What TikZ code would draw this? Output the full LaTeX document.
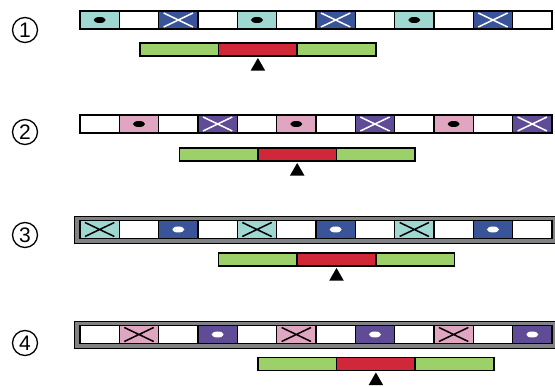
\documentclass[tikz,border=0pt]{standalone}
\usepackage{fontspec}
\newfontfamily\numfont{Liberation Sans}
\usetikzlibrary{positioning,shapes.geometric}
\definecolor{cteal}{RGB}{158,216,208}
\definecolor{cblue}{RGB}{58,84,154}
\definecolor{cpink}{RGB}{224,165,192}
\definecolor{cpurple}{RGB}{96,76,150}
\definecolor{cgreen}{RGB}{156,208,104}
\definecolor{cred}{RGB}{208,40,56}
\definecolor{cframe}{RGB}{128,130,132}

\begin{document}
\begin{tikzpicture}[
  x=1pt, y=-1pt,
  num/.style={circle, draw, line width=1.3pt, minimum size=25pt, inner sep=0pt,
    font=\numfont\fontsize{21}{21}\selectfont},
  cell/.style={draw, line width=1.6pt, minimum width=39.33pt, minimum height=18pt,
    inner sep=0pt, outer sep=0pt, anchor=north west},
  plain/.style={cell, fill=white},
  dotcell/.style={cell, path picture={
    \fill[#1] (path picture bounding box.center) ellipse [x radius=6pt, y radius=3pt];}},
  crosscell/.style={cell, path picture={
    \draw[#1, line width=1.5pt]
      ([xshift=5pt,yshift=-2pt]path picture bounding box.north west) --
      ([xshift=-5pt,yshift=2pt]path picture bounding box.south east)
      ([xshift=5pt,yshift=2pt]path picture bounding box.south west) --
      ([xshift=-5pt,yshift=-2pt]path picture bounding box.north east);}},
  tdot/.style={dotcell=black, fill=cteal},
  tcross/.style={crosscell=black, fill=cteal},
  bcross/.style={crosscell=white, fill=cblue},
  bdot/.style={dotcell=white, fill=cblue},
  pdot/.style={dotcell=black, fill=cpink},
  pcross/.style={crosscell=black, fill=cpink},
  ucross/.style={crosscell=white, fill=cpurple},
  udot/.style={dotcell=white, fill=cpurple},
  frame/.style={draw, fill=cframe, line width=1.4pt, minimum width=482pt,
    minimum height=27pt, inner sep=0pt, anchor=north west},
  seg/.style={draw, line width=1.5pt, minimum width=78.6pt, minimum height=13pt,
    inner sep=0pt, outer sep=0pt},
  pointer/.style={regular polygon, regular polygon sides=3, fill=black,
    minimum size=17pt, inner sep=0pt, outer sep=0pt}
]
\useasboundingbox (0,0) rectangle (555,387);

% circled row numbers
\node[num] (n1) at (25,30) {1};
\node[num] (n2) at (25,132) {2};
\node[num] (n3) at (25,235) {3};
\node[num] (n4) at (25,343) {4};

% frames behind rows 3 and 4
\node[frame] (f3) at (74,216) {};
\node[frame] (f4) at (74,321) {};

% strips of twelve cells
\foreach \s [count=\i] in {tdot,plain,bcross,plain,tdot,plain,bcross,plain,tdot,plain,bcross,plain}
  \node[\s] (r1c\i) at ({80+39.33*(\i-1)},11) {};
\foreach \s [count=\i] in {plain,pdot,plain,ucross,plain,pdot,plain,ucross,plain,pdot,plain,ucross}
  \node[\s] (r2c\i) at ({80+39.33*(\i-1)},115) {};
\foreach \s [count=\i] in {tcross,plain,bdot,plain,tcross,plain,bdot,plain,tcross,plain,bdot,plain}
  \node[\s] (r3c\i) at ({80+39.33*(\i-1)},220.5) {};
\foreach \s [count=\i] in {plain,pcross,plain,udot,plain,pcross,plain,udot,plain,pcross,plain,udot}
  \node[\s] (r4c\i) at ({80+39.33*(\i-1)},325.5) {};

% bars with pointer, shifted one cell per row
\foreach \r/\x/\y in {1/140/43, 2/179.3/148, 3/218.6/253, 4/258/357.5} {
  \node[seg, fill=cgreen, anchor=north west] (b\r l) at (\x,\y) {};
  \node[seg, fill=cred, right=0pt of b\r l] (b\r m) {};
  \node[seg, fill=cgreen, right=0pt of b\r m] (b\r r) {};
  \node[pointer, below=2pt of b\r m] (p\r) {};
}
\end{tikzpicture}
\end{document}
